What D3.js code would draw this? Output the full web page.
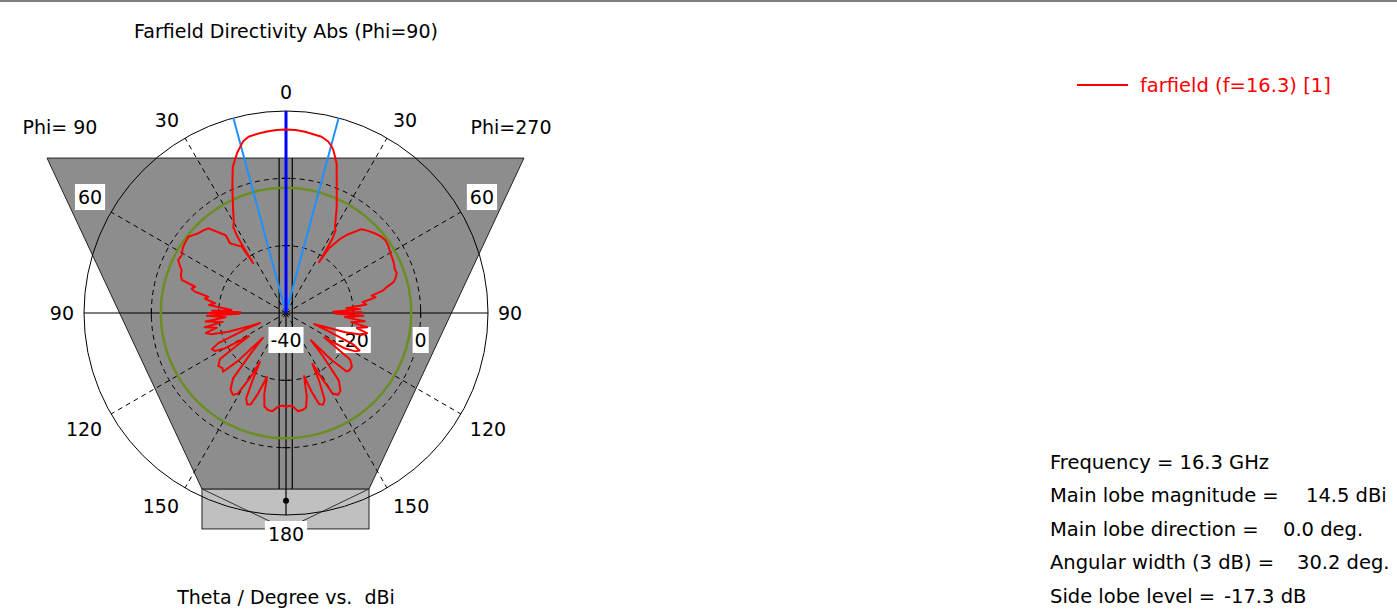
<!DOCTYPE html>
<html>
<head>
<meta charset="utf-8">
<script src="https://d3js.org/d3.v7.min.js"></script>
<style>
  body { margin: 0; background: #fff; }
  text { font-family: "DejaVu Sans", sans-serif; font-size: 19px; fill: #000; }
  .info { font-size: 19.5px; }
</style>
</head>
<body>
<svg id="chart"></svg>
<script>
// directivity cut at Phi=90 (left half) and Phi=270 (right half), theta in deg, value in dBi
var thetaL = [0, 3, 6, 9, 12, 14, 15.1, 17, 20, 23, 26.5, 30, 31.5, 32.5, 33, 33.4, 33.7, 38.8, 37.9, 38, 42.5, 45, 47.7, 50, 52, 55.4, 58, 61, 63.8, 66, 67.6, 70, 72.4, 73.9, 75.5, 76.8, 78.2, 80, 82.2, 84, 85.5, 86.8, 88.3, 89, 90, 91, 92, 94, 96, 98, 100, 102, 104, 106, 108, 110, 111, 112, 114, 116, 118, 120, 122, 123, 125, 128, 131, 133, 135, 137, 139, 141, 144, 147, 149, 151, 152, 153.5, 155, 157, 159, 161, 163.5, 165, 167, 169.5, 172, 175, 178, 180];
var dbL = [14.5, 14.45, 14.2, 13.9, 13.5, 12.6, 11.5, 9.7, 6.2, 0.8, -4.7, -9.0, -10.0, -13.0, -17.7, -22.3, -16.3, -13.4, -11.3, -10.6, -5.9, -5.3, -4.8, -4.0, -3.2, -3.5, -3.8, -4.6, -4.3, -5.5, -6.5, -6.8, -7.5, -11.9, -11.0, -12.2, -16.4, -15.5, -18.7, -17.0, -21.0, -23.8, -18.0, -26.5, -17.0, -26.0, -16.5, -22.0, -16.0, -21.0, -15.5, -19.0, -15.5, -17.0, -22.0, -29.0, -31.7, -27.0, -18.0, -15.5, -16.0, -19.0, -27.0, -24.0, -16.0, -14.5, -15.0, -14.4, -20.0, -29.9, -24.0, -15.0, -12.0, -11.0, -12.0, -18.0, -23.5, -18.0, -12.0, -10.5, -11.0, -15.0, -20.2, -15.0, -11.5, -10.7, -10.5, -12.0, -12.5, -12.1];

var thetaR = [0, 3, 6, 11.4, 13.9, 15.1, 16.2, 18.7, 21.9, 25.5, 29.6, 31, 32, 32.6, 33, 33.5, 36, 38, 42, 45, 48, 51, 54, 57, 60, 63, 66, 68, 70, 72, 74, 75.5, 77, 78.5, 80, 82, 84, 85.5, 87, 88.5, 89.5, 90.5, 92, 94, 96, 98, 100, 102, 104, 106, 108, 110, 111.5, 113, 115, 117, 119, 121, 122.5, 124, 126, 129, 132, 134, 136, 137.5, 139.5, 142, 145, 147.5, 150, 151.5, 152.5, 154, 156, 158, 160, 162, 164, 166, 168, 170, 173, 176, 178, 180];
var dbR = [14.5, 14.45, 14.15, 13.4, 12.4, 11.5, 10.4, 6.9, 0.4, -5.0, -10.5, -11.5, -14.0, -18.0, -22.0, -17.0, -13.0, -10.5, -6.5, -5.5, -4.6, -3.8, -3.4, -3.7, -4.2, -4.5, -4.8, -5.2, -5.0, -5.7, -6.8, -9.0, -10.5, -14.0, -13.0, -17.0, -16.0, -22.0, -18.0, -26.0, -17.5, -25.5, -17.0, -22.5, -16.5, -20.5, -15.5, -18.5, -15.2, -16.5, -21.5, -28.5, -31.0, -26.5, -18.0, -15.5, -16.5, -19.5, -26.5, -23.5, -16.5, -14.8, -14.6, -15.0, -21.0, -29.0, -23.0, -14.5, -11.8, -11.2, -12.5, -19.0, -23.0, -17.5, -11.8, -10.6, -11.2, -15.5, -20.5, -14.5, -11.3, -10.8, -10.6, -12.2, -12.4, -12.1];

// angle grid and label text
var gridAngles = [30, 60, 120, 150];
var angleLabels = [0, 30, 60, 90, 120, 150, 180];
var radialTicks = [-40, -20, 0];
var gridLevels = [-20, 0];

// main lobe markers
var mainDir = 0, mainMag = 14.5, beamWidth = 30.2, sideLobe = -17.3;

// shaded "phi" mask, in units of the outer radius
var maskX = [-1.183, 1.178, 0.411, -0.416];
var maskY = [-0.767, -0.767, 0.871, 0.871];
var boxX = [-0.416, 0.411];
var boxY = [0.871, 1.069];

var infoLabels = ["Frequency = 16.3 GHz", "Main lobe magnitude =", "Main lobe direction =", "Angular width (3 dB) =", "Side lobe level ="];
var infoValues = ["", "14.5 dBi", "0.0 deg.", "30.2 deg.", "-17.3 dB"];
var infoValueX = [0, 1306, 1283, 1297, 1224];

var width = 1397, height = 611;
var cx = 286, cy = 313, R = 202;

var svg = d3.select("#chart").attr("width", width).attr("height", height);

svg.append("rect").attr("x", 0).attr("y", 0).attr("width", width).attr("height", 2).attr("fill", "#7f7f7f");

var r = d3.scaleLinear().domain([-40, 20]).range([0, R]);
var ux = d3.scaleLinear().domain([-1, 1]).range([cx - R, cx + R]);
var uy = d3.scaleLinear().domain([-1, 1]).range([cy - R, cy + R]);
var rad = function(a) { return a * Math.PI / 180; };

var shade = svg.append("g");
var g = svg.append("g").attr("transform", "translate(" + cx + "," + cy + ")");

// shading
shade.append("rect")
  .attr("x", ux(boxX[0])).attr("y", uy(boxY[0]))
  .attr("width", ux(boxX[1]) - ux(boxX[0])).attr("height", uy(boxY[1]) - uy(boxY[0]))
  .attr("fill", "#c0c0c0").attr("stroke", "#222").attr("stroke-width", 1);
shade.append("path")
  .attr("d", d3.line()(maskX.map(function(d, i) { return [ux(d), uy(maskY[i])]; })) + "Z")
  .attr("fill", "#8d8d8d").attr("stroke", "#222").attr("stroke-width", 1);
[0, 1].forEach(function(i) {
  shade.append("line")
    .attr("x1", ux(boxX[i])).attr("y1", uy(boxY[0]))
    .attr("x2", ux(0)).attr("y2", uy(boxY[1]))
    .attr("stroke", "#333").attr("stroke-width", 1);
});
[-0.034, 0.031].forEach(function(d) {
  shade.append("line")
    .attr("x1", ux(d)).attr("x2", ux(d)).attr("y1", uy(maskY[0])).attr("y2", uy(boxY[0]))
    .attr("stroke", "#000").attr("stroke-width", 1.2);
});

// grid circles
g.selectAll(".gc").data(gridLevels).enter().append("circle")
  .attr("r", function(d) { return r(d); })
  .attr("fill", "none").attr("stroke", "#000").attr("stroke-width", 1).attr("stroke-dasharray", "5,4");
g.append("circle").attr("r", R).attr("fill", "none").attr("stroke", "#000").attr("stroke-width", 1);

// radial dashed lines, both halves
gridAngles.forEach(function(a) {
  [-1, 1].forEach(function(s) {
    g.append("line")
      .attr("x1", 0).attr("y1", 0)
      .attr("x2", s * R * Math.sin(rad(a))).attr("y2", -R * Math.cos(rad(a)))
      .attr("stroke", "#000").attr("stroke-width", 1).attr("stroke-dasharray", "5,4");
  });
});

// axes
g.append("line").attr("x1", -R).attr("x2", R).attr("y1", 0).attr("y2", 0).attr("stroke", "#000").attr("stroke-width", 1.2);
g.append("line").attr("x1", 0).attr("x2", 0).attr("y1", -R).attr("y2", R).attr("stroke", "#000").attr("stroke-width", 1.2);
gridLevels.forEach(function(d) {
  [-1, 1].forEach(function(s) {
    g.append("line").attr("x1", s * r(d)).attr("x2", s * r(d)).attr("y1", -4).attr("y2", 4).attr("stroke", "#000");
    g.append("line").attr("y1", s * r(d)).attr("y2", s * r(d)).attr("x1", -4).attr("x2", 4).attr("stroke", "#000");
  });
});
g.append("circle").attr("cx", 0).attr("cy", r(15.8)).attr("r", 3).attr("fill", "#000");

// side lobe level circle
g.append("circle").attr("r", r(mainMag + sideLobe))
  .attr("fill", "none").attr("stroke", "#6b8e23").attr("stroke-width", 2.5);

// beam width lines
[-beamWidth / 2, beamWidth / 2].forEach(function(a) {
  g.append("line").attr("x1", 0).attr("y1", 0)
    .attr("x2", R * Math.sin(rad(a))).attr("y2", -R * Math.cos(rad(a)))
    .attr("stroke", "#1e90ff").attr("stroke-width", 2);
});
g.append("line").attr("x1", 0).attr("y1", 0)
  .attr("x2", R * Math.sin(rad(mainDir))).attr("y2", -R * Math.cos(rad(mainDir)))
  .attr("stroke", "#0000ff").attr("stroke-width", 3);

// labels (under the curve)
var lab = g.append("g");
function boxed(t, px, py) {
  var bb = t.node().getBBox();
  lab.insert("rect", function() { return t.node(); })
    .attr("x", bb.x - px).attr("y", bb.y - py).attr("width", bb.width + 2 * px).attr("height", bb.height + 2 * py).attr("fill", "#fff");
}

radialTicks.forEach(function(d) {
  var t = lab.append("text").attr("x", r(d)).attr("y", 27).attr("text-anchor", "middle").attr("dominant-baseline", "central").text(d);
  boxed(t, 2, 2);
});

angleLabels.forEach(function(a) {
  [-1, 1].forEach(function(s) {
    if ((a === 0 || a === 180) && s === 1) return;
    var sx = s * Math.sin(rad(a)), cy_ = Math.cos(rad(a));
    var px = (R + 8) * sx, py = -(R + 8) * cy_;
    var anchor = Math.abs(sx) < 0.01 ? "middle" : (sx < 0 ? "end" : "start");
    var t = lab.append("text")
      .attr("x", px + (anchor === "middle" ? 0 : (sx < 0 ? -2 : 2)))
      .attr("y", py + (Math.abs(cy_) < 0.01 ? 0 : (cy_ > 0 ? -11 : 11)))
      .attr("text-anchor", anchor).attr("dominant-baseline", "central").text(a);
    if (a === 60 || a === 180) boxed(t, 3, 2);
  });
});

// pattern
var pts = [];
for (var i = thetaL.length - 1; i >= 0; i--) pts.push([-rad(thetaL[i]), r(Math.max(dbL[i], -40))]);
for (var j = 0; j < thetaR.length; j++) pts.push([rad(thetaR[j]), r(Math.max(dbR[j], -40))]);
g.append("path")
  .attr("d", d3.lineRadial().curve(d3.curveLinearClosed)(pts))
  .attr("fill", "none").attr("stroke", "#ff0000").attr("stroke-width", 2).attr("stroke-linejoin", "round");

svg.append("text").attr("x", 60).attr("y", 127).attr("text-anchor", "middle").attr("dominant-baseline", "central").text("Phi= 90");
svg.append("text").attr("x", 511).attr("y", 127).attr("text-anchor", "middle").attr("dominant-baseline", "central").text("Phi=270");

svg.append("text").attr("x", 286).attr("y", 31).attr("text-anchor", "middle").attr("dominant-baseline", "central").text("Farfield Directivity Abs (Phi=90)");
svg.append("text").attr("x", 286).attr("y", 597).attr("text-anchor", "middle").attr("dominant-baseline", "central").style("white-space", "pre").text("Theta / Degree vs.  dBi");

// legend
svg.append("line").attr("x1", 1077).attr("x2", 1128).attr("y1", 85).attr("y2", 85).attr("stroke", "#ff0000").attr("stroke-width", 2);
svg.append("text").attr("class", "info").attr("x", 1140).attr("y", 85).attr("dominant-baseline", "central").style("fill", "#ff0000").text("farfield (f=16.3) [1]");

// info block
infoLabels.forEach(function(t, i) {
  var y = 462 + i * 33.5;
  svg.append("text").attr("class", "info").attr("x", 1050).attr("y", y).attr("dominant-baseline", "central").text(t);
  if (infoValues[i]) svg.append("text").attr("class", "info").attr("x", infoValueX[i]).attr("y", y).attr("dominant-baseline", "central").text(infoValues[i]);
});
</script>
</body>
</html>
